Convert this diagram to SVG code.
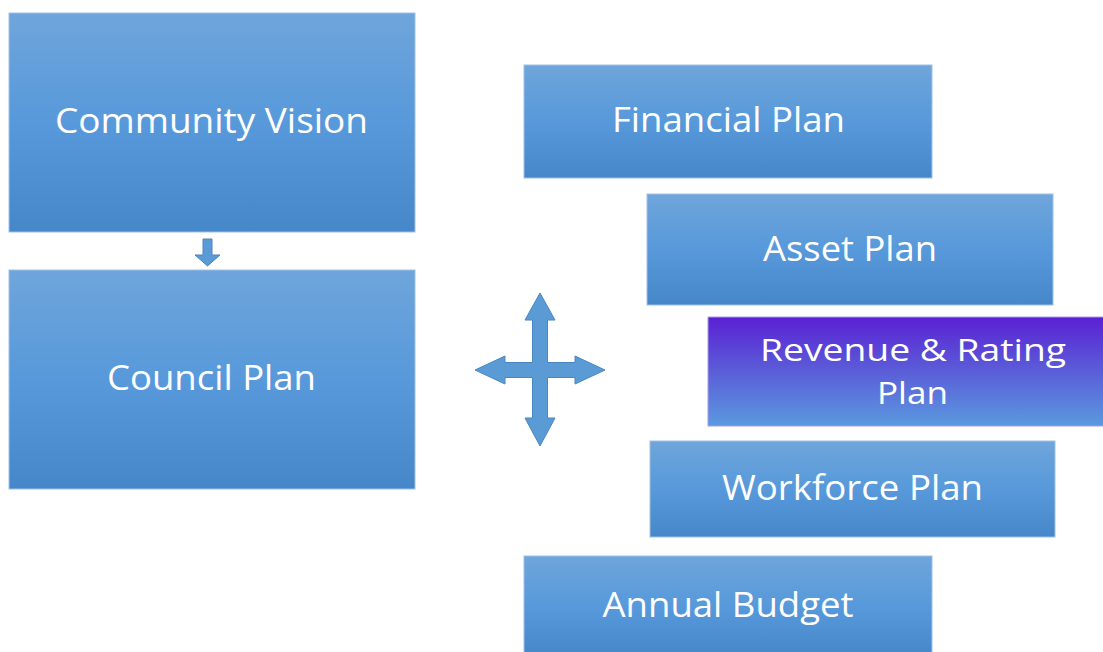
<svg xmlns="http://www.w3.org/2000/svg" width="1103" height="652" viewBox="0 0 1103 652">
<style>
.box{fill:url(#blue);stroke:#9fc1e6;stroke-width:1}
.purple{fill:url(#purp);stroke:#a99be8;stroke-width:1}
.lbl{font-family:"Open Sans","Liberation Sans",sans-serif;font-size:34px;fill:#ffffff;text-anchor:middle}
.lbl2{font-size:31px}
.arrow{fill:#5a9bd5;stroke:#4a86c0;stroke-width:1}
</style>
<defs>
<linearGradient id="blue" x1="0" y1="0" x2="0" y2="1">
<stop offset="0" stop-color="#6fa5db"/>
<stop offset="0.5" stop-color="#5799da"/>
<stop offset="1" stop-color="#4587c8"/>
</linearGradient>
<linearGradient id="purp" x1="0" y1="0" x2="0" y2="1">
<stop offset="0" stop-color="#5a20d4"/>
<stop offset="0.5" stop-color="#5a5ed8"/>
<stop offset="1" stop-color="#5a9ae0"/>
</linearGradient>
</defs>
<rect width="1103" height="652" fill="#ffffff"/>
<g id="community-vision"><rect class="box" x="9" y="13" width="406" height="219"/><text class="lbl" x="211.5" y="133" textLength="313" lengthAdjust="spacingAndGlyphs">Community Vision</text></g>
<g id="council-plan"><rect class="box" x="9" y="270" width="406" height="219"/><text class="lbl" x="211.5" y="390" textLength="209" lengthAdjust="spacingAndGlyphs">Council Plan</text></g>
<g id="financial-plan"><rect class="box" x="524" y="65" width="408" height="113"/><text class="lbl" x="728.5" y="132" textLength="233" lengthAdjust="spacingAndGlyphs">Financial Plan</text></g>
<g id="asset-plan"><rect class="box" x="647" y="194" width="406" height="111"/><text class="lbl" x="850" y="261" textLength="174" lengthAdjust="spacingAndGlyphs">Asset Plan</text></g>
<g id="revenue-rating-plan"><rect class="purple" x="708" y="317" width="400" height="109"/><text class="lbl lbl2" x="913" y="361" textLength="306" lengthAdjust="spacingAndGlyphs">Revenue &amp; Rating</text><text class="lbl lbl2" x="912.5" y="404" textLength="71" lengthAdjust="spacingAndGlyphs">Plan</text></g>
<g id="workforce-plan"><rect class="box" x="650" y="441" width="405" height="96"/><text class="lbl" x="852.5" y="500" textLength="261" lengthAdjust="spacingAndGlyphs">Workforce Plan</text></g>
<g id="annual-budget"><rect class="box" x="524" y="556" width="408" height="100"/><text class="lbl" x="728" y="617" textLength="251" lengthAdjust="spacingAndGlyphs">Annual Budget</text></g>
<g id="connectors">
<path class="arrow" d="M203,239 H212 V255 H220 L207.5,266 L195,255 H203 Z"/>
<path class="arrow" d="M540,293 L555,320 H547.5 V362.5 H575 V356 L605,370 L575,384 V377.5 H547.5 V418 H555 L540,446 L525,418 H532.5 V377.5 H505 V384 L475,370 L505,356 V362.5 H532.5 V320 H525 Z"/>
</g>
</svg>
